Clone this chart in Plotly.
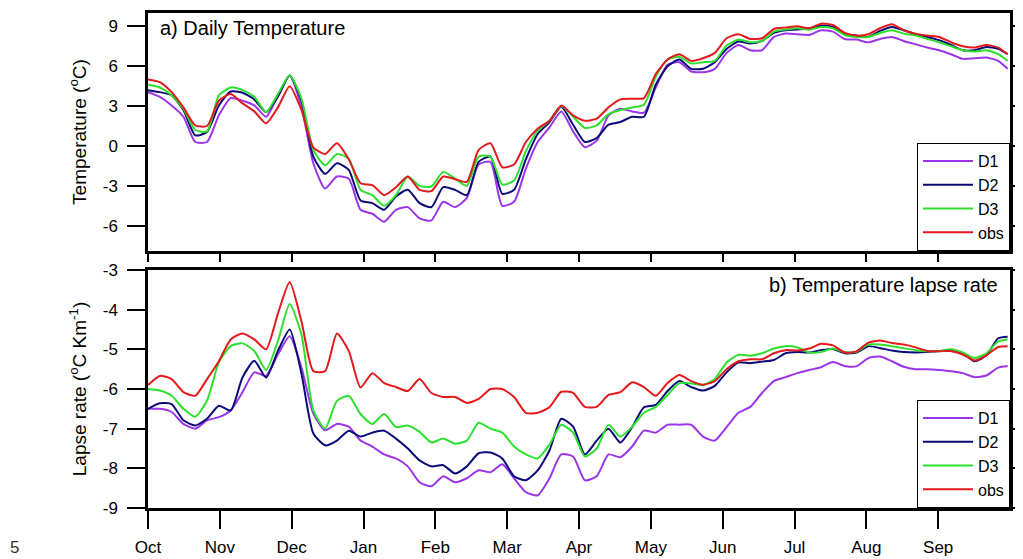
import plotly.graph_objects as go

# ---------------- data (day index from 1 Oct, every 5 days) ----------------
days = list(range(0, 365, 5)) + [364]

months = ["Oct", "Nov", "Dec", "Jan", "Feb", "Mar", "Apr", "May", "Jun", "Jul", "Aug", "Sep"]
month_pos = [i * 365 / 12 for i in range(12)]

temp_D1 = [4.05, 3.7, 3.05, 2.2, 0.3, 0.3, 2.3, 3.6, 3.4, 3.05, 2.2, 3.8, 5.3, 2.9, -1.3, -3.2, -2.3, -2.45, -4.8, -5.1, -5.7, -4.8, -4.6, -5.45, -5.6,
           -4.2, -4.6, -3.9, -1.4, -1.2, -4.5, -4.2, -1.7, 0.3, 1.4, 2.6, 1.1, -0.1, 0.4, 2.3, 2.8, 2.6, 2.5, 4.4, 6.1, 6.3, 5.6, 5.55, 5.8,
           7.0, 7.6, 7.2, 7.2, 8.2, 8.45, 8.4, 8.35, 8.7, 8.6, 8.05, 8.0, 7.8, 8.05, 8.2, 7.9, 7.65, 7.4, 7.2, 6.9, 6.55, 6.6, 6.65, 6.4, 5.8]
temp_D2 = [4.2, 4.05, 3.8, 2.7, 0.8, 1.05, 3.05, 4.1, 4.0, 3.5, 2.55, 3.7, 5.3, 3.4, -0.8, -2.1, -1.3, -1.8, -4.1, -4.3, -4.8, -3.8, -3.3, -4.3, -4.6,
           -3.1, -3.3, -3.7, -1.2, -0.8, -3.6, -3.3, -1.0, 0.9, 1.8, 2.95, 1.6, 0.3, 0.6, 1.6, 1.8, 2.2, 2.2, 4.6, 6.0, 6.5, 5.8, 5.8, 6.3,
           7.3, 7.85, 7.7, 7.9, 8.5, 8.7, 8.75, 8.85, 9.05, 8.95, 8.45, 8.3, 8.2, 8.65, 8.95, 8.7, 8.4, 8.2, 7.95, 7.6, 7.2, 7.2, 7.45, 7.3, 6.9]
temp_D3 = [4.6, 4.4, 3.8, 2.8, 1.2, 1.1, 3.8, 4.4, 4.2, 3.7, 2.55, 3.9, 5.3, 3.55, -0.3, -1.45, -0.6, -0.95, -3.3, -3.7, -4.5, -3.7, -2.3, -3.0, -3.05,
           -1.95, -2.45, -3.0, -0.8, -0.8, -2.9, -2.6, -0.4, 1.15, 1.9, 3.0, 2.2, 1.35, 1.55, 2.4, 2.7, 2.9, 3.1, 5.2, 6.5, 6.7, 6.2, 6.3, 6.4,
           7.55, 8.0, 7.8, 7.9, 8.6, 8.75, 8.85, 8.75, 8.95, 8.85, 8.35, 8.2, 8.2, 8.5, 8.7, 8.45, 8.3, 8.05, 7.8, 7.5, 7.2, 7.1, 7.2, 6.9, 6.4]
temp_obs = [5.0, 4.8, 4.05, 2.9, 1.55, 1.5, 3.4, 3.9, 3.2, 2.6, 1.7, 2.9, 4.5, 2.7, -0.1, -0.6, 0.2, -1.0, -2.8, -2.95, -3.7, -3.1, -2.3, -3.3, -3.4,
            -2.3, -2.5, -2.7, -0.3, 0.2, -1.6, -1.4, 0.3, 1.3, 1.9, 3.05, 2.3, 1.9, 2.05, 2.9, 3.5, 3.55, 3.6, 5.4, 6.5, 6.9, 6.4, 6.6, 7.0,
            8.1, 8.4, 8.05, 8.1, 8.8, 8.9, 9.0, 8.85, 9.2, 9.1, 8.5, 8.3, 8.4, 8.85, 9.15, 8.7, 8.45, 8.3, 8.2, 7.8, 7.5, 7.4, 7.6, 7.4, 6.9]

lapse_D1 = [-6.5, -6.5, -6.58, -6.88, -7.0, -6.79, -6.71, -6.54, -6.08, -5.58, -5.67, -5.13, -4.67, -5.46, -6.62, -7.04, -6.88, -6.95, -7.3, -7.45, -7.65, -7.75, -7.95, -8.35, -8.45,
            -8.2, -8.35, -8.25, -8.05, -8.1, -7.9, -8.25, -8.6, -8.68, -8.25, -7.65, -7.7, -8.3, -8.2, -7.65, -7.72, -7.45, -7.05, -7.1, -6.9, -6.9, -6.9, -7.2, -7.3,
            -6.96, -6.6, -6.45, -6.1, -5.8, -5.7, -5.6, -5.52, -5.45, -5.32, -5.42, -5.43, -5.22, -5.18, -5.3, -5.44, -5.5, -5.5, -5.52, -5.55, -5.6, -5.7, -5.66, -5.46, -5.42]
lapse_D2 = [-6.5, -6.36, -6.38, -6.79, -6.92, -6.75, -6.42, -6.54, -5.71, -5.29, -5.71, -5.04, -4.5, -5.62, -7.12, -7.42, -7.3, -7.05, -7.2, -7.1, -7.05, -7.25, -7.5, -7.8, -7.95,
            -7.92, -8.13, -7.95, -7.62, -7.6, -7.75, -8.2, -8.3, -8.05, -7.55, -6.75, -6.95, -7.65, -7.3, -7.0, -7.35, -6.96, -6.46, -6.4, -6.05, -5.8, -5.95, -6.04, -5.92,
            -5.58, -5.33, -5.35, -5.31, -5.27, -5.1, -5.07, -5.08, -5.02, -4.99, -5.1, -5.08, -4.92, -4.97, -5.03, -5.07, -5.08, -5.07, -5.04, -5.04, -5.1, -5.3, -5.15, -4.72, -4.68]
lapse_D3 = [-6.0, -6.04, -6.17, -6.5, -6.7, -6.29, -5.33, -4.92, -4.85, -5.04, -5.52, -4.79, -3.86, -4.63, -6.54, -7.0, -6.3, -6.17, -6.63, -6.88, -6.63, -6.96, -6.92, -7.08, -7.35,
            -7.25, -7.38, -7.3, -6.85, -7.0, -7.1, -7.45, -7.65, -7.75, -7.4, -6.9, -7.1, -7.7, -7.5, -6.9, -7.2, -6.95, -6.6, -6.45, -6.15, -5.85, -5.86, -5.9, -5.75,
            -5.33, -5.14, -5.16, -5.1, -4.98, -4.92, -4.95, -5.08, -5.07, -4.98, -5.07, -5.06, -4.88, -4.88, -4.92, -4.97, -5.02, -5.05, -5.04, -5.0, -5.08, -5.22, -5.1, -4.8, -4.75]
lapse_obs = [-5.9, -5.67, -5.75, -6.08, -6.17, -5.75, -5.3, -4.75, -4.6, -4.75, -5.0, -4.1, -3.3, -4.3, -5.55, -5.55, -4.6, -5.04, -5.96, -5.6, -5.85, -5.95, -6.05, -5.75, -6.1,
             -6.2, -6.2, -6.35, -6.25, -6.0, -6.0, -6.2, -6.6, -6.6, -6.46, -6.07, -6.1, -6.45, -6.45, -6.15, -6.08, -5.83, -5.95, -6.17, -5.85, -5.65, -5.8, -5.89, -5.8,
             -5.5, -5.3, -5.25, -5.25, -5.1, -5.02, -5.03, -4.98, -4.86, -4.9, -5.08, -5.05, -4.83, -4.78, -4.84, -4.88, -4.95, -5.04, -5.05, -5.04, -5.13, -5.28, -5.15, -4.94, -4.92]

series_names = ["D1", "D2", "D3", "obs"]
series_colors = ["#9B35E8", "#0A0A78", "#2EE02E", "#E3191C"]
temp_series = [temp_D1, temp_D2, temp_D3, temp_obs]
lapse_series = [lapse_D1, lapse_D2, lapse_D3, lapse_obs]

temp_ticks = [-6, -3, 0, 3, 6, 9]
lapse_ticks = [-9, -8, -7, -6, -5, -4, -3]

# ---------------- figure ----------------
# the page body adds an 8 px offset, so the figure is 8 px smaller than the window
FONT = "Liberation Sans, Arial, Helvetica, sans-serif"
fig = go.Figure()

for name, color, t, l in zip(series_names, series_colors, temp_series, lapse_series):
    fig.add_trace(go.Scatter(x=days, y=t, mode="lines", name=name,
                             line=dict(color=color, width=2, shape="spline", smoothing=0.6),
                             xaxis="x", yaxis="y", legend="legend", legendgroup=name + "a"))
    fig.add_trace(go.Scatter(x=days, y=l, mode="lines", name=name,
                             line=dict(color=color, width=2, shape="spline", smoothing=0.6),
                             xaxis="x2", yaxis="y2", legend="legend2", legendgroup=name + "b"))

axis_common = dict(showline=True, linecolor="black", linewidth=2.5, showgrid=False,
                   zeroline=False, ticks="outside", tickcolor="black", tickwidth=2,
                   automargin=False,
                   tickfont=dict(family=FONT, size=17, color="black"))

fig.update_layout(
    template="none",
    width=1015, height=551,
    margin=dict(l=140, r=13, t=5, b=51, autoexpand=False),
    paper_bgcolor="white", plot_bgcolor="white",
    font=dict(family=FONT, color="black"),
    xaxis=dict(domain=[0, 1], anchor="y", range=[0, 365], tickvals=month_pos,
               showticklabels=False, ticklen=8, mirror=True, **axis_common),
    yaxis=dict(domain=[0.5192, 1], anchor="x", range=[-7.9, 10.0], tickvals=temp_ticks,
               ticktext=[str(v) for v in temp_ticks], ticklen=18, mirror="allticks",
               ticklabelstandoff=6,
               title=dict(text="Temperature (<sup>o</sup>C)", font=dict(family=FONT, size=19), standoff=12),
               **axis_common),
    xaxis2=dict(domain=[0, 1], anchor="y2", range=[0, 365], tickvals=month_pos,
                ticktext=months, ticklen=18, mirror=True, ticklabelstandoff=4, **axis_common),
    xaxis3=dict(overlaying="x2", anchor="y2", side="top", range=[0, 365], tickvals=month_pos,
                showticklabels=False, ticks="outside", ticklen=8, tickwidth=2, tickcolor="black",
                showline=False, showgrid=False, zeroline=False, automargin=False),
    yaxis2=dict(domain=[0, 0.4808], anchor="x2", range=[-9, -3], tickvals=lapse_ticks,
                ticktext=[str(v) for v in lapse_ticks], ticklen=18, mirror="allticks",
                ticklabelstandoff=6,
                title=dict(text="Lapse rate (<sup>o</sup>C Km<sup>-1</sup>)", font=dict(family=FONT, size=19), standoff=12),
                **axis_common),
    legend=dict(x=1, xanchor="right", y=0.5192, yanchor="bottom", bgcolor="white",
                bordercolor="black", borderwidth=1, font=dict(family=FONT, size=16),
                tracegroupgap=3, traceorder="normal", itemwidth=50),
    legend2=dict(x=1, xanchor="right", y=0, yanchor="bottom", bgcolor="white",
                 bordercolor="black", borderwidth=1, font=dict(family=FONT, size=16),
                 tracegroupgap=3, traceorder="normal", itemwidth=50),
    annotations=[
        dict(text="a) Daily Temperature", xref="paper", yref="paper", x=0.012, y=0.9697,
             xanchor="left", yanchor="middle", showarrow=False, font=dict(family=FONT, size=20)),
        dict(text="b) Temperature lapse rate", xref="paper", yref="paper", x=0.9884, y=0.4505,
             xanchor="right", yanchor="middle", showarrow=False, font=dict(family=FONT, size=20)),
        dict(text="5", xref="paper", yref="paper", x=-0.1543, y=-0.0808,
             xanchor="center", yanchor="middle", showarrow=False, font=dict(family=FONT, size=17, color="#333333")),
    ],
)

fig.write_html("out.html")
